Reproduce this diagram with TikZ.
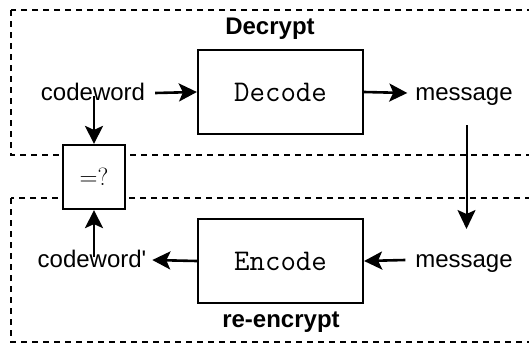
\documentclass[tikz,border=0pt]{standalone}
\usepackage{fontspec}
\setmainfont{Liberation Sans}
\newfontfamily\lmmono{Latin Modern Mono}
\usetikzlibrary{arrows.meta}
\tikzset{
  lbl/.style={font=\fontsize{24}{28}\selectfont, inner sep=2pt, outer sep=0pt, text height=14pt, text depth=0pt},
  ttl/.style={font=\bfseries\fontsize{24}{28}\selectfont, inner sep=0pt},
  blk/.style={draw, line width=2.2pt, minimum width=165pt, minimum height=84pt, font=\lmmono\fontsize{30}{32}\selectfont},
  eqb/.style={draw, line width=2.2pt, minimum width=62pt, minimum height=64pt, font=\fontsize{29}{32}\selectfont, fill=white},
  grp/.style={draw, line width=1.5pt, dash pattern=on 6pt off 5pt},
  arr/.style={line width=2.6pt, -{Stealth[length=18pt,width=18pt,inset=4pt]}},
  varr/.style={line width=2pt, -{Stealth[length=19pt,width=18pt,inset=4pt]}}
}
\begin{document}
\begin{tikzpicture}[x=1pt,y=-1pt]
\useasboundingbox (0,0) rectangle (529,343);
\clip (0,0) rectangle (529,343);
\draw[grp] (11,10) rectangle (545,155);
\draw[grp] (11,198) rectangle (545,342);
\node[ttl] (decrypt) at (270,29) {Decrypt};
\node[ttl] (reenc) at (281,322) {re-encrypt};
\node[blk] (dec) at (280.5,92) {Decode};
\node[blk] (enc) at (280.5,261) {Encode};
\node[lbl] (cw) at (93,93) {codeword};
\node[lbl] (msg1) at (464,93) {message};
\node[lbl] (cw2) at (92,260) {codeword\textquotesingle};
\node[lbl] (msg2) at (464,260) {message};
\node[eqb] (eq) at (94,177) {$=?$};
\draw[arr] ([xshift=8pt]cw.east) -- (dec.west);
\draw[arr] (dec.east) -- ([xshift=-6pt]msg1.west);
\draw[arr] (enc.west) -- ([xshift=4pt]cw2.east);
\draw[arr] ([xshift=-8pt]msg2.west) -- (enc.east);
\draw[arr] ([yshift=6pt]eq.north |- cw.south) -- (eq.north);
\draw[arr] ([yshift=-6pt]eq.south |- cw2.north) -- (eq.south);
\coordinate (v1) at (466.5,125);
\coordinate (v2) at (466.5,229);
\draw[varr] (v1) -- (v2);
\end{tikzpicture}
\end{document}
